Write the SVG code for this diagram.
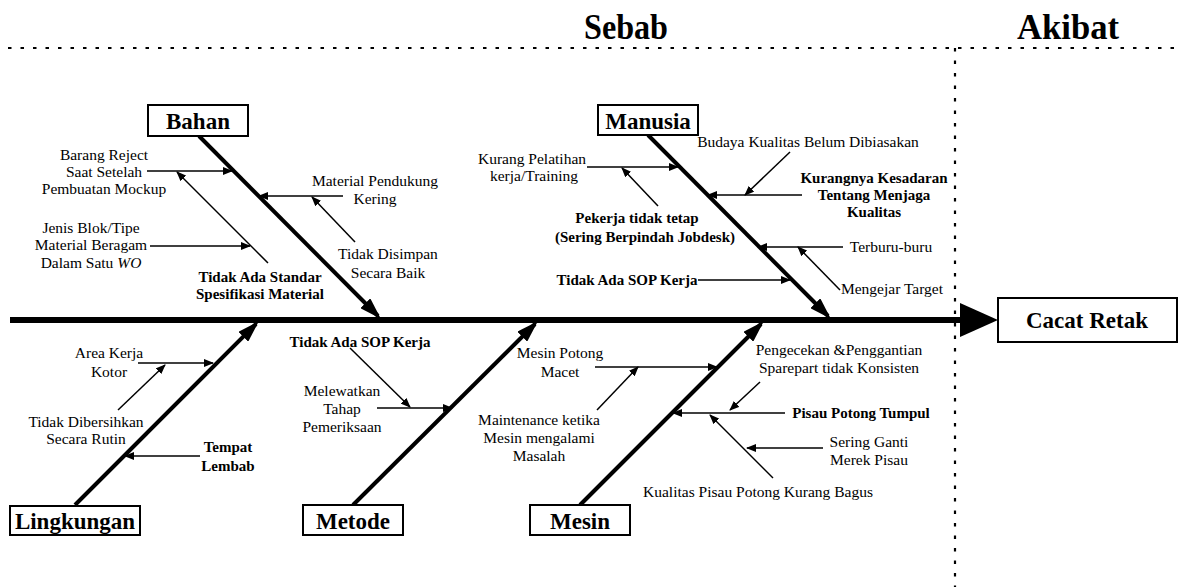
<svg xmlns="http://www.w3.org/2000/svg" width="1186" height="587" viewBox="0 0 1186 587">
<style>
.t{font-family:"Liberation Serif","Times New Roman",serif;font-size:15.5px;fill:#000;text-anchor:middle}
.b{font-weight:bold;font-size:15px}
.h{font-family:"Liberation Serif","Times New Roman",serif;font-weight:bold;font-size:23px;fill:#000;text-anchor:middle}
.ttl{font-family:"Liberation Serif","Times New Roman",serif;font-weight:bold;font-size:36px;fill:#000;text-anchor:middle}
.box{fill:#fff;stroke:#000;stroke-width:2}
.bone{stroke:#000;stroke-width:4;fill:none;marker-end:url(#big)}
.sub{stroke:#000;stroke-width:1.5;fill:none;marker-end:url(#sm)}
.dot{stroke:#000;stroke-width:2.2;stroke-dasharray:3.5 9;fill:none}
</style>
<defs>
<marker id="big" markerUnits="userSpaceOnUse" markerWidth="22" markerHeight="14" refX="18" refY="7" orient="auto"><path d="M0,0 L22,7 L0,14 z" fill="#000"/></marker>
<marker id="sm" markerUnits="userSpaceOnUse" markerWidth="10" markerHeight="8" refX="9" refY="4" orient="auto"><path d="M0,0 L10,4 L0,8 z" fill="#000"/></marker>
</defs>
<rect width="1186" height="587" fill="#fff"/>
<g id="frame">
<line class="dot" x1="8" y1="48" x2="1182" y2="48"/>
<line class="dot" x1="955" y1="48" x2="955" y2="587"/>
<text class="ttl" x="626" y="39" textLength="84" lengthAdjust="spacingAndGlyphs">Sebab</text>
<text class="ttl" x="1068" y="39" textLength="102" lengthAdjust="spacingAndGlyphs">Akibat</text>
</g>
<g id="connectors">
<line x1="10" y1="320" x2="962" y2="320" stroke="#000" stroke-width="6"/>
<path d="M960,303 L998,320 L960,337 z" fill="#000"/>
<line class="bone" x1="199" y1="136" x2="378" y2="316"/>
<line class="bone" x1="648" y1="135" x2="828" y2="316"/>
<line class="bone" x1="75" y1="505" x2="256" y2="324"/>
<line class="bone" x1="353" y1="505" x2="535" y2="324"/>
<line class="bone" x1="580" y1="505" x2="761" y2="324"/>
<line class="sub" x1="147" y1="171" x2="232" y2="171"/>
<line class="sub" x1="268" y1="263" x2="177" y2="172"/>
<line class="sub" x1="343" y1="196" x2="259" y2="196"/>
<line class="sub" x1="355" y1="242" x2="312" y2="197"/>
<line class="sub" x1="150" y1="246" x2="250" y2="246"/>
<line class="sub" x1="587" y1="167" x2="678" y2="167"/>
<line class="sub" x1="658" y1="206" x2="622" y2="168"/>
<line class="sub" x1="790" y1="152" x2="745" y2="195"/>
<line class="sub" x1="802" y1="195" x2="708" y2="195"/>
<line class="sub" x1="843" y1="247" x2="758" y2="247"/>
<line class="sub" x1="840" y1="290" x2="798" y2="247"/>
<line class="sub" x1="698" y1="280" x2="790" y2="280"/>
<line class="sub" x1="138" y1="363" x2="213" y2="363"/>
<line class="sub" x1="118" y1="410" x2="165" y2="365"/>
<line class="sub" x1="200" y1="456" x2="125" y2="456"/>
<line class="sub" x1="350" y1="348" x2="410" y2="407"/>
<line class="sub" x1="377" y1="408" x2="452" y2="408"/>
<line class="sub" x1="595" y1="367" x2="717" y2="367"/>
<line class="sub" x1="597" y1="410" x2="638" y2="367"/>
<line class="sub" x1="760" y1="382" x2="730" y2="410"/>
<line class="sub" x1="785" y1="413" x2="673" y2="413"/>
<line class="sub" x1="823" y1="448" x2="747" y2="448"/>
<line class="sub" x1="773" y1="478" x2="710" y2="415"/>
</g>
<g id="bahan">
<rect class="box" x="148" y="105" width="100" height="31"/>
<text class="h" x="198" y="129">Bahan</text>
<text class="t" x="104" y="160">Barang Reject</text>
<text class="t" x="104" y="177">Saat Setelah</text>
<text class="t" x="104" y="194">Pembuatan Mockup</text>
<text class="t" x="375" y="186">Material Pendukung</text>
<text class="t" x="375" y="204">Kering</text>
<text class="t" x="388" y="259">Tidak Disimpan</text>
<text class="t" x="388" y="278">Secara Baik</text>
<text class="t" x="91" y="233">Jenis Blok/Tipe</text>
<text class="t" x="91" y="250">Material Beragam</text>
<text class="t" x="91" y="268">Dalam Satu <tspan font-style="italic">WO</tspan></text>
<text class="t b" x="260" y="282">Tidak Ada Standar</text>
<text class="t b" x="260" y="299">Spesifikasi Material</text>
</g>
<g id="manusia">
<rect class="box" x="598" y="105" width="100" height="30"/>
<text class="h" x="648" y="129">Manusia</text>
<text class="t" x="532" y="164">Kurang Pelatihan</text>
<text class="t" x="534" y="181">kerja/Training</text>
<text class="t b" x="637" y="223">Pekerja tidak tetap</text>
<text class="t b" x="645" y="242">(Sering Berpindah Jobdesk)</text>
<text class="t" x="808" y="147">Budaya Kualitas Belum Dibiasakan</text>
<text class="t b" x="874" y="183">Kurangnya Kesadaran</text>
<text class="t b" x="874" y="200">Tentang Menjaga</text>
<text class="t b" x="874" y="217">Kualitas</text>
<text class="t" x="891" y="252">Terburu-buru</text>
<text class="t" x="892" y="294">Mengejar Target</text>
<text class="t b" x="627" y="285">Tidak Ada SOP Kerja</text>
</g>
<g id="cacat-retak">
<rect class="box" x="998" y="298" width="179" height="44"/>
<text class="h" x="1087" y="328">Cacat Retak</text>
</g>
<g id="lingkungan">
<rect class="box" x="10" y="506" width="130" height="29"/>
<text class="h" x="75" y="529">Lingkungan</text>
<text class="t" x="109" y="358">Area Kerja</text>
<text class="t" x="109" y="377">Kotor</text>
<text class="t" x="86" y="427">Tidak Dibersihkan</text>
<text class="t" x="86" y="444">Secara Rutin</text>
<text class="t b" x="228" y="452">Tempat</text>
<text class="t b" x="228" y="471">Lembab</text>
</g>
<g id="metode">
<rect class="box" x="303" y="505" width="100" height="30"/>
<text class="h" x="353" y="529">Metode</text>
<text class="t b" x="360" y="347">Tidak Ada SOP Kerja</text>
<text class="t" x="342" y="396">Melewatkan</text>
<text class="t" x="342" y="414">Tahap</text>
<text class="t" x="342" y="432">Pemeriksaan</text>
</g>
<g id="mesin">
<rect class="box" x="530" y="505" width="100" height="30"/>
<text class="h" x="580" y="529">Mesin</text>
<text class="t" x="560" y="358">Mesin Potong</text>
<text class="t" x="560" y="377">Macet</text>
<text class="t" x="539" y="425">Maintenance ketika</text>
<text class="t" x="539" y="443">Mesin mengalami</text>
<text class="t" x="539" y="461">Masalah</text>
<text class="t" x="839" y="355">Pengecekan &amp;Penggantian</text>
<text class="t" x="839" y="373">Sparepart tidak Konsisten</text>
<text class="t b" x="861" y="418">Pisau Potong Tumpul</text>
<text class="t" x="869" y="447">Sering Ganti</text>
<text class="t" x="869" y="465">Merek Pisau</text>
<text class="t" x="758" y="497">Kualitas Pisau Potong Kurang Bagus</text>
</g>
</svg>
